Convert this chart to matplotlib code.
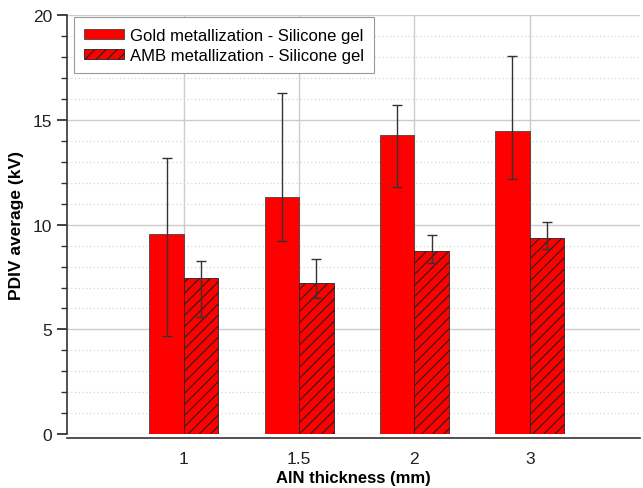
import numpy as np
import matplotlib
matplotlib.use("Agg")
import matplotlib.pyplot as plt
from matplotlib.ticker import MultipleLocator

plt.rcParams["font.family"] = ["Liberation Sans", "DejaVu Sans"]
plt.rcParams["hatch.linewidth"] = 0.8

# data
thickness = ["1", "1.5", "2", "3"]
gold_mean = [9.55, 11.3, 14.26, 14.46]
gold_err_low = [4.87, 2.07, 2.46, 2.26]
gold_err_high = [3.65, 5.0, 1.43, 3.6]
amb_mean = [7.45, 7.22, 8.75, 9.37]
amb_err_low = [1.85, 0.73, 0.6, 0.55]
amb_err_high = [0.84, 1.13, 0.76, 0.78]

fig = plt.figure(figsize=(6.43, 4.89), dpi=100)
ax = fig.add_axes([0.104, 0.11, 0.891, 0.857])

x = np.arange(len(thickness))
w = 0.3
err_kw = dict(ecolor="#333333", elinewidth=1.0, capsize=3.3, capthick=1.0)

ax.bar(x - w / 2, gold_mean, w, color="#ff0000", edgecolor="#444444", linewidth=0.6,
       yerr=[gold_err_low, gold_err_high], error_kw=err_kw,
       label="Gold metallization - Silicone gel", zorder=3)
ax.bar(x + w / 2, amb_mean, w, color="#ff0000", edgecolor="#222222", linewidth=0.6,
       hatch="///", yerr=[amb_err_low, amb_err_high], error_kw=err_kw,
       label="AMB metallization - Silicone gel", zorder=3)

ax.set_xlim(-1.015, 3.955)
ax.set_ylim(0, 20)
ax.set_xticks(x)
ax.set_xticklabels(thickness)
ax.yaxis.set_major_locator(MultipleLocator(5))
ax.yaxis.set_minor_locator(MultipleLocator(1))

# grid: solid majors, dotted minors
ax.grid(True, axis="y", which="major", color="#cccccc", linewidth=1.0, zorder=0)
ax.grid(True, axis="y", which="minor", color="#d5d5d5", linewidth=0.9, linestyle=(0, (1, 2)), zorder=0)
ax.grid(True, axis="x", which="major", color="#cccccc", linewidth=1.0, zorder=0)
ax.set_axisbelow(True)

for s in ["top", "right"]:
    ax.spines[s].set_visible(False)
ax.spines["left"].set_linewidth(1.2)
ax.spines["left"].set_color("#333333")
ax.spines["bottom"].set_linewidth(1.2)
ax.spines["bottom"].set_color("#333333")
ax.spines["bottom"].set_position(("outward", 3))

ax.tick_params(axis="x", length=0, labelsize=12.5, pad=9, colors="#222222")
ax.tick_params(axis="y", which="major", length=7, width=1.2, labelsize=12.5, colors="#222222")
ax.tick_params(axis="y", which="minor", length=4, width=1.0, colors="#333333")

ax.set_xlabel("AlN thickness (mm)", fontsize=12, fontweight="bold", labelpad=3)
ax.set_ylabel("PDIV average (kV)", fontsize=12.5, fontweight="bold", labelpad=6)

leg = ax.legend(loc="upper left", bbox_to_anchor=(0.012, 0.995), fontsize=12,
                fancybox=False, framealpha=1, edgecolor="#999999",
                handlelength=2.4, handleheight=0.55, borderpad=0.62, labelspacing=0.3,
                handletextpad=0.35, borderaxespad=0.0)
leg.get_frame().set_linewidth(0.8)

fig.savefig("out.png", dpi=100)
